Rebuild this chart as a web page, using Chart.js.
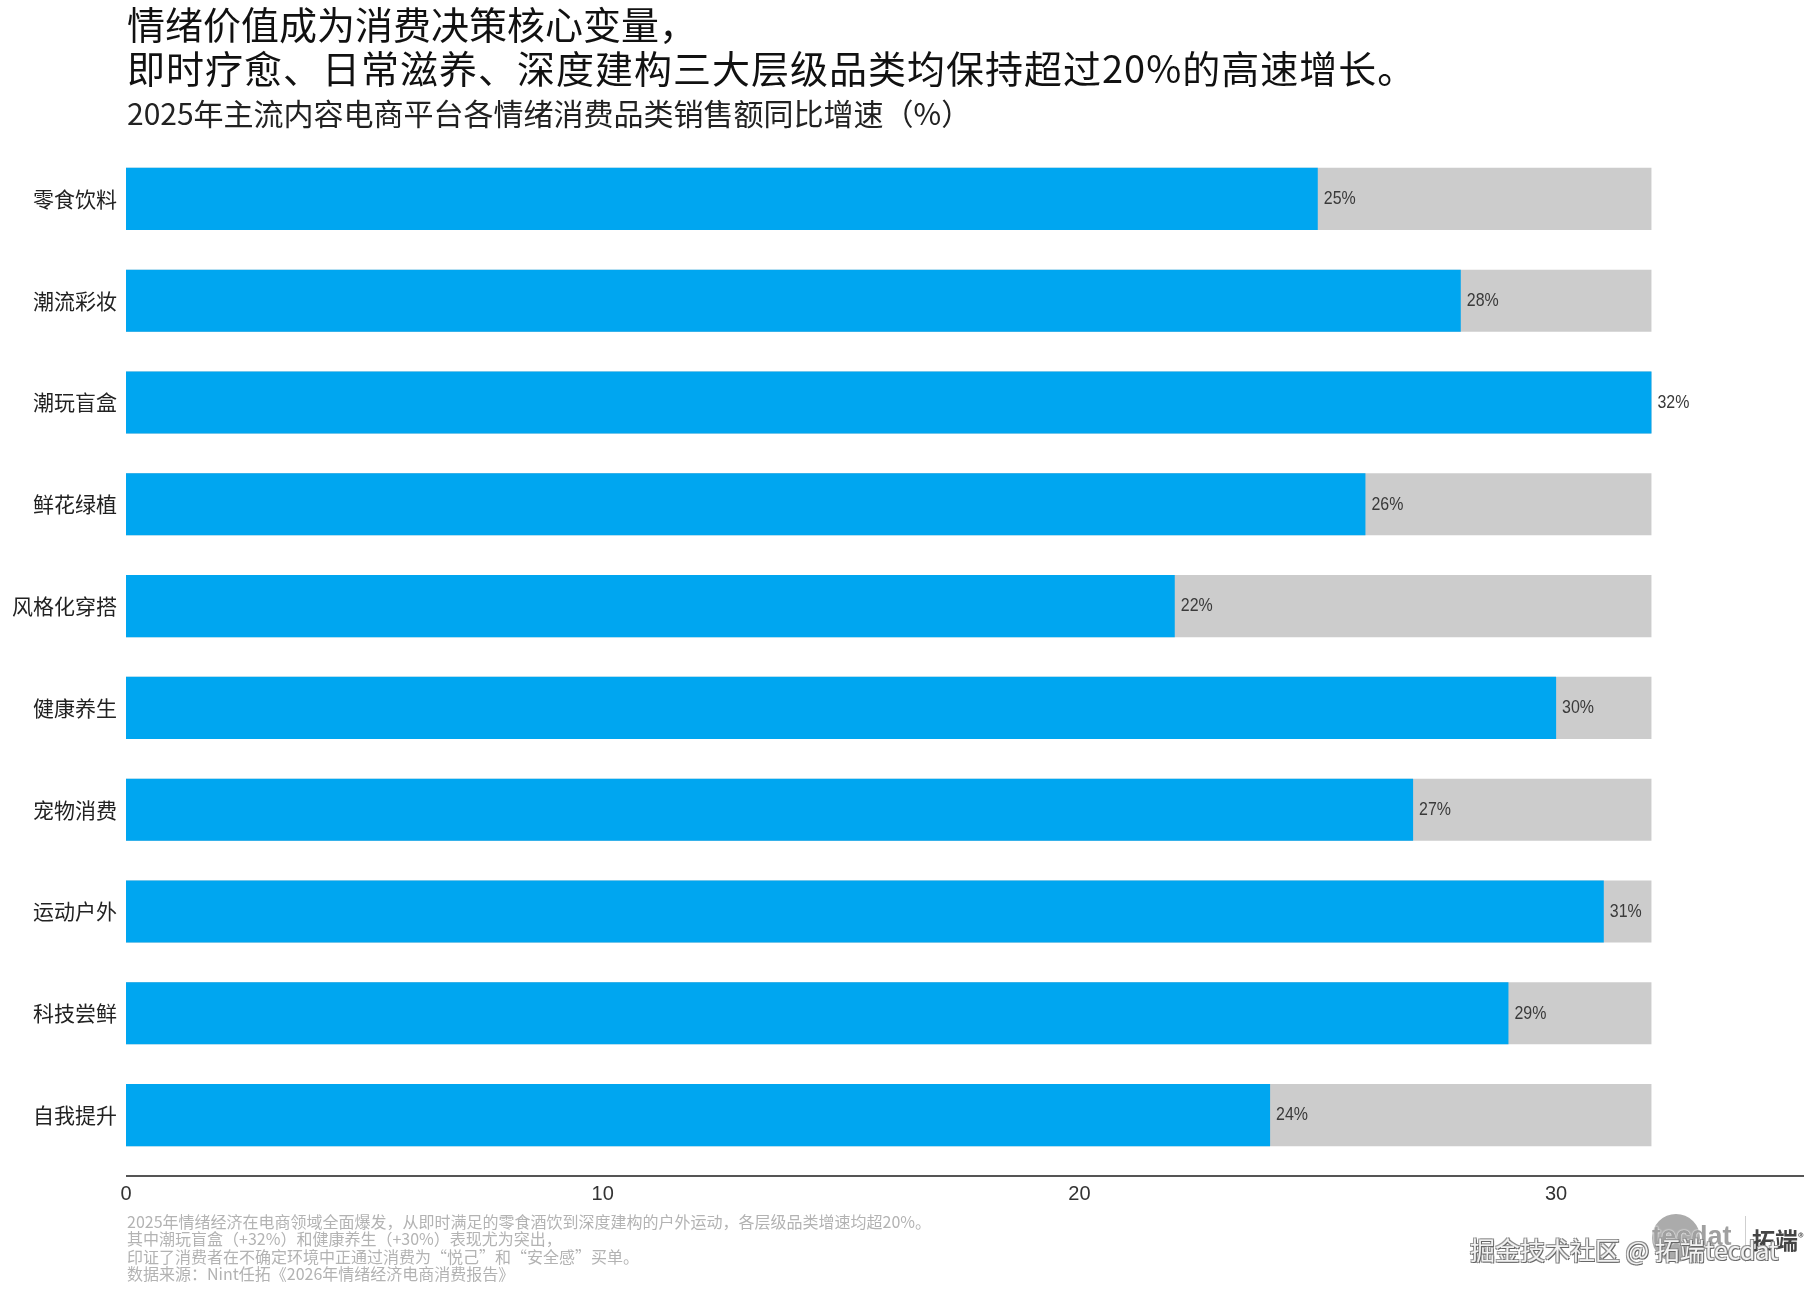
<!DOCTYPE html>
<html>
<head>
<meta charset="utf-8">
<script src="https://cdn.jsdelivr.net/npm/chart.js@4/dist/chart.umd.min.js"></script>
<style>
  html, body { margin: 0; padding: 0; background: #fff; }
  body { width: 1814px; height: 1296px; position: relative; overflow: hidden; font-family: "Noto Sans CJK SC", "Noto Sans", sans-serif; }
  #wrap { position: absolute; left: 0; top: 0; width: 1814px; height: 1296px; }
  .title { position: absolute; left: 127px; top: 1px; font-size: 38px; line-height: 44px; color: #111; white-space: nowrap; }
  .title .l2 { letter-spacing: 1px; }
  .subtitle { position: absolute; left: 127px; top: 94px; font-size: 30px; line-height: 36px; color: #222; white-space: nowrap; }
  .foot { position: absolute; left: 127px; top: 1213px; font-size: 16px; line-height: 17.3px; color: #b3b3b3; white-space: nowrap; }
  .logoCircle { position: absolute; left: 1652px; top: 1214px; width: 48px; height: 48px; border-radius: 50%; background: #ababab; }
  .logoText { position: absolute; left: 1652px; top: 1220px; font-family: "Liberation Sans", sans-serif; font-weight: bold; font-size: 27px; line-height: 32px; color: #a0a0a0; text-shadow: 0 0 2px #fff, 0 0 1px #fff; }
  .logoSep { position: absolute; left: 1745px; top: 1216px; width: 1px; height: 46px; background: #cfcfcf; }
  .logoCn { position: absolute; left: 1752px; top: 1224px; font-weight: bold; font-size: 23px; line-height: 30px; color: #444; }
  .logoCn sup { font-size: 12px; font-weight: normal; vertical-align: top; position: relative; top: -2px; }
  .wm { position: absolute; left: 1470px; top: 1233px; font-size: 25px; line-height: 32px; color: #f2f2f2; white-space: nowrap;
        text-shadow: 1px 1px 0 #666, -1px -1px 0 #999, 1px -1px 0 #888, -1px 1px 0 #888; }
</style>
</head>
<body>
<div id="wrap"><canvas id="c" width="1814" height="1296"></canvas></div>
<div class="title">情绪价值成为消费决策核心变量，<br><span class="l2">即时疗愈、日常滋养、深度建构三大层级品类均保持超过20%的高速增长。</span></div>
<div class="subtitle">2025年主流内容电商平台各情绪消费品类销售额同比增速（%）</div>
<div class="foot">2025年情绪经济在电商领域全面爆发，从即时满足的零食酒饮到深度建构的户外运动，各层级品类增速均超20%。<br>其中潮玩盲盒（+32%）和健康养生（+30%）表现尤为突出，<br>印证了消费者在不确定环境中正通过消费为“悦己”和“安全感”买单。<br>数据来源：Nint任拓《2026年情绪经济电商消费报告》</div>
<div class="logoCircle"></div>
<div class="logoText">tecdat</div>
<div class="logoSep"></div>
<div class="logoCn">拓端<sup>®</sup></div>
<div class="wm">掘金技术社区 @ 拓端tecdat</div>
<script>
const categories = ["零食饮料", "潮流彩妆", "潮玩盲盒", "鲜花绿植", "风格化穿搭", "健康养生", "宠物消费", "运动户外", "科技尝鲜", "自我提升"];
const growthValues = [25, 28, 32, 26, 22, 30, 27, 31, 29, 24];
const backgroundValues = [32, 32, 32, 32, 32, 32, 32, 32, 32, 32];
const xTickValues = [0, 10, 20, 30];
const xMax = 35.2;

const valueLabels = {
  id: 'valueLabels',
  afterDatasetsDraw(chart) {
    const ctx = chart.ctx;
    const meta = chart.getDatasetMeta(0);
    meta.data.forEach((el, i) => {
      ctx.save();
      ctx.font = '19px "Liberation Sans", sans-serif';
      ctx.fillStyle = '#3a3a3a';
      ctx.textAlign = 'left';
      ctx.textBaseline = 'middle';
      ctx.translate(el.x + 6, el.y);
      ctx.scale(0.84, 1);
      ctx.fillText(growthValues[i] + '%', 0, 0);
      ctx.restore();
    });
  }
};

const axisLine = {
  id: 'axisLine',
  afterDraw(chart) {
    const ctx = chart.ctx;
    const a = chart.chartArea;
    ctx.save();
    ctx.strokeStyle = '#555';
    ctx.lineWidth = 2;
    ctx.beginPath();
    ctx.moveTo(a.left, a.bottom + 10);
    ctx.lineTo(a.right, a.bottom + 10);
    ctx.stroke();
    ctx.restore();
  }
};

new Chart(document.getElementById('c'), {
  type: 'bar',
  data: {
    labels: categories,
    datasets: [
      { data: growthValues, backgroundColor: '#00A6F0', grouped: false, order: 0,
        barPercentage: 0.61, categoryPercentage: 1.0 },
      { data: backgroundValues, backgroundColor: '#cccccc', grouped: false, order: 1,
        barPercentage: 0.61, categoryPercentage: 1.0 }
    ]
  },
  options: {
    indexAxis: 'y',
    responsive: false,
    devicePixelRatio: 1,
    animation: false,
    layout: { padding: { top: 148, right: 10, left: 0, bottom: 0 } },
    plugins: { legend: { display: false }, tooltip: { enabled: false }, title: { display: false } },
    scales: {
      x: {
        min: 0, max: xMax,
        grid: { display: false, drawTicks: false },
        border: { display: false },
        afterBuildTicks(scale) { scale.ticks = xTickValues.map(v => ({ value: v })); },
        afterFit(scale) { scale.height = 130; },
        ticks: { color: '#333', padding: 16, font: { family: '"Liberation Sans", sans-serif', size: 20 } }
      },
      y: {
        grid: { display: false, drawTicks: false },
        border: { display: false },
        afterFit(scale) { scale.width = 126; },
        ticks: { color: '#222', padding: 9, font: { family: '"Noto Sans CJK SC", sans-serif', size: 21 } }
      }
    }
  },
  plugins: [valueLabels, axisLine]
});
</script>
</body>
</html>
